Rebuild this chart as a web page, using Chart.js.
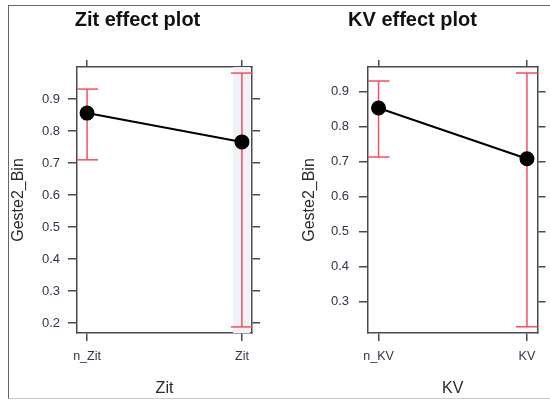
<!DOCTYPE html>
<html lang="de">
<head>
  <meta charset="UTF-8">
  <title>Zit / KV effect plots</title>
  <script src="https://cdn.jsdelivr.net/npm/chart.js"></script>
  <style>
    body {
      margin: 0;
      background: #fff;
      width: 550px;
      height: 400px;
      overflow: hidden;
      position: relative;
      font-family: "Liberation Sans", Arial, sans-serif;
    }
    #frame {
      position: absolute;
      left: 8px;
      top: 5px;
      width: 600px;
      height: 392px;
      border-left: 1.5px solid #666;
      border-top: 1.5px solid #666;
      border-bottom: 1px solid #ccc;
    }
    canvas {
      position: absolute;
      top: 0;
    }
    #zitChart { left: 0; }
    #kvChart { left: 275px; }
  </style>
</head>
<body>
<div id="frame"></div>
<canvas id="zitChart" width="275" height="400"></canvas>
<canvas id="kvChart" width="275" height="400"></canvas>

<script>
  // Zit panel
  const zitCats = ['n_Zit', 'Zit'];
  const zitFit = [0.856, 0.766];
  const zitLower = [0.710, 0.188];
  const zitUpper = [0.931, 0.981];
  const zitTicks = [0.2, 0.3, 0.4, 0.5, 0.6, 0.7, 0.8, 0.9];

  // KV panel
  const kvCats = ['n_KV', 'KV'];
  const kvFit = [0.854, 0.709];
  const kvLower = [0.714, 0.229];
  const kvUpper = [0.931, 0.954];
  const kvTicks = [0.3, 0.4, 0.5, 0.6, 0.7, 0.8, 0.9];

  const frameColor = '#4a4a4a';
  const red = '#f5505f';
  const fontFamily = '"Liberation Sans", Arial, sans-serif';

  // pale band behind the second level (left panel only)
  const bandPlugin = {
    id: 'band',
    beforeDatasetsDraw(chart, args, opts) {
      if (!opts.show) return;
      const { ctx, chartArea, scales } = chart;
      const px = scales.x.getPixelForValue(1);
      ctx.save();
      ctx.fillStyle = '#eff3f6';
      ctx.fillRect(px - 9, chartArea.top, 17, chartArea.bottom - chartArea.top);
      ctx.restore();
    }
  };

  function tickSetter(values) {
    return scale => { scale.ticks = values.map(v => ({ value: v })); };
  }

  function makePanel(canvasId, title, cats, fit, lower, upper, yTicks, ext, lay) {
    const errLines = [];
    cats.forEach((c, i) => {
      if (i > 0) errLines.push({ x: i - 0.5, y: null });
      errLines.push({ x: i, y: lower[i] });
      errLines.push({ x: i, y: upper[i] });
    });
    const caps = [];
    cats.forEach((c, i) => {
      caps.push({ x: i, y: lower[i] });
      caps.push({ x: i, y: upper[i] });
    });
    const effect = cats.map((c, i) => ({ x: i, y: fit[i] }));

    const gridOpts = (len) => ({
      drawOnChartArea: false,
      drawTicks: true,
      tickLength: len,
      color: frameColor,
      lineWidth: 1.5
    });
    const borderOpts = { display: true, color: frameColor, width: 1.5 };

    return new Chart(document.getElementById(canvasId), {
      type: 'scatter',
      data: {
        datasets: [
          {
            data: effect,
            showLine: true,
            borderColor: '#000',
            borderWidth: 2,
            pointRadius: 6.5,
            pointBackgroundColor: '#000',
            pointBorderColor: '#000',
            order: 1
          },
          {
            data: errLines,
            showLine: true,
            spanGaps: false,
            borderColor: red,
            borderWidth: 1.5,
            pointRadius: 0,
            order: 2
          },
          {
            data: caps,
            showLine: false,
            pointStyle: 'line',
            pointRadius: 11,
            borderColor: red,
            borderWidth: 1.5,
            order: 3
          }
        ]
      },
      options: {
        responsive: false,
        animation: false,
        events: [],
        layout: { padding: 0 },
        plugins: {
          legend: { display: false },
          tooltip: { enabled: false },
          band: { show: lay.band },
          title: {
            display: true,
            text: title,
            color: '#111',
            font: { family: fontFamily, size: 20, weight: 'bold' },
            padding: { top: 8, bottom: 0 }
          }
        },
        scales: {
          x: {
            type: 'linear',
            position: 'bottom',
            min: ext.xMin,
            max: ext.xMax,
            afterBuildTicks: tickSetter([0, 1]),
            afterFit: s => { s.height = 67; },
            grid: gridOpts(8),
            border: borderOpts,
            ticks: {
              color: '#33334a',
              font: { family: fontFamily, size: 12.5 },
              padding: 8,
              maxRotation: 0,
              callback: (v, i) => cats[i]
            },
            title: {
              display: true,
              text: cats[1],
              color: '#2a2a2a',
              font: { family: fontFamily, size: 16 },
              padding: { top: 0, bottom: 2 }
            }
          },
          x2: {
            type: 'linear',
            position: 'top',
            min: ext.xMin,
            max: ext.xMax,
            afterBuildTicks: tickSetter([0, 1]),
            afterFit: s => { s.height = 35; },
            grid: gridOpts(7),
            border: borderOpts,
            ticks: { display: false }
          },
          y: {
            type: 'linear',
            position: 'left',
            min: ext.yMin,
            max: ext.yMax,
            afterBuildTicks: tickSetter(yTicks),
            afterFit: s => { s.width = lay.left; },
            grid: gridOpts(9),
            border: borderOpts,
            ticks: {
              color: '#33334a',
              font: { family: fontFamily, size: 13 },
              padding: lay.tickPad,
              callback: v => v.toFixed(1)
            },
            title: {
              display: true,
              text: 'Geste2_Bin',
              color: '#2a2a2a',
              font: { family: fontFamily, size: 16 },
              padding: { top: lay.titlePad, bottom: 0 }
            }
          },
          y2: {
            type: 'linear',
            position: 'right',
            min: ext.yMin,
            max: ext.yMax,
            afterBuildTicks: tickSetter(yTicks),
            afterFit: s => { s.width = lay.right; },
            grid: gridOpts(8),
            border: borderOpts,
            ticks: { display: false }
          }
        }
      },
      plugins: [bandPlugin]
    });
  }

  makePanel('zitChart', 'Zit effect plot', zitCats, zitFit, zitLower, zitUpper, zitTicks,
    { xMin: -0.065, xMax: 1.065, yMin: 0.169, yMax: 1.0 },
    { left: 77, right: 23, tickPad: 8, titlePad: 9, band: true });

  makePanel('kvChart', 'KV effect plot', kvCats, kvFit, kvLower, kvUpper, kvTicks,
    { xMin: -0.071, xMax: 1.071, yMin: 0.211, yMax: 0.971 },
    { left: 93, right: 6, tickPad: 10, titlePad: 25, band: false });
</script>
</body>
</html>
